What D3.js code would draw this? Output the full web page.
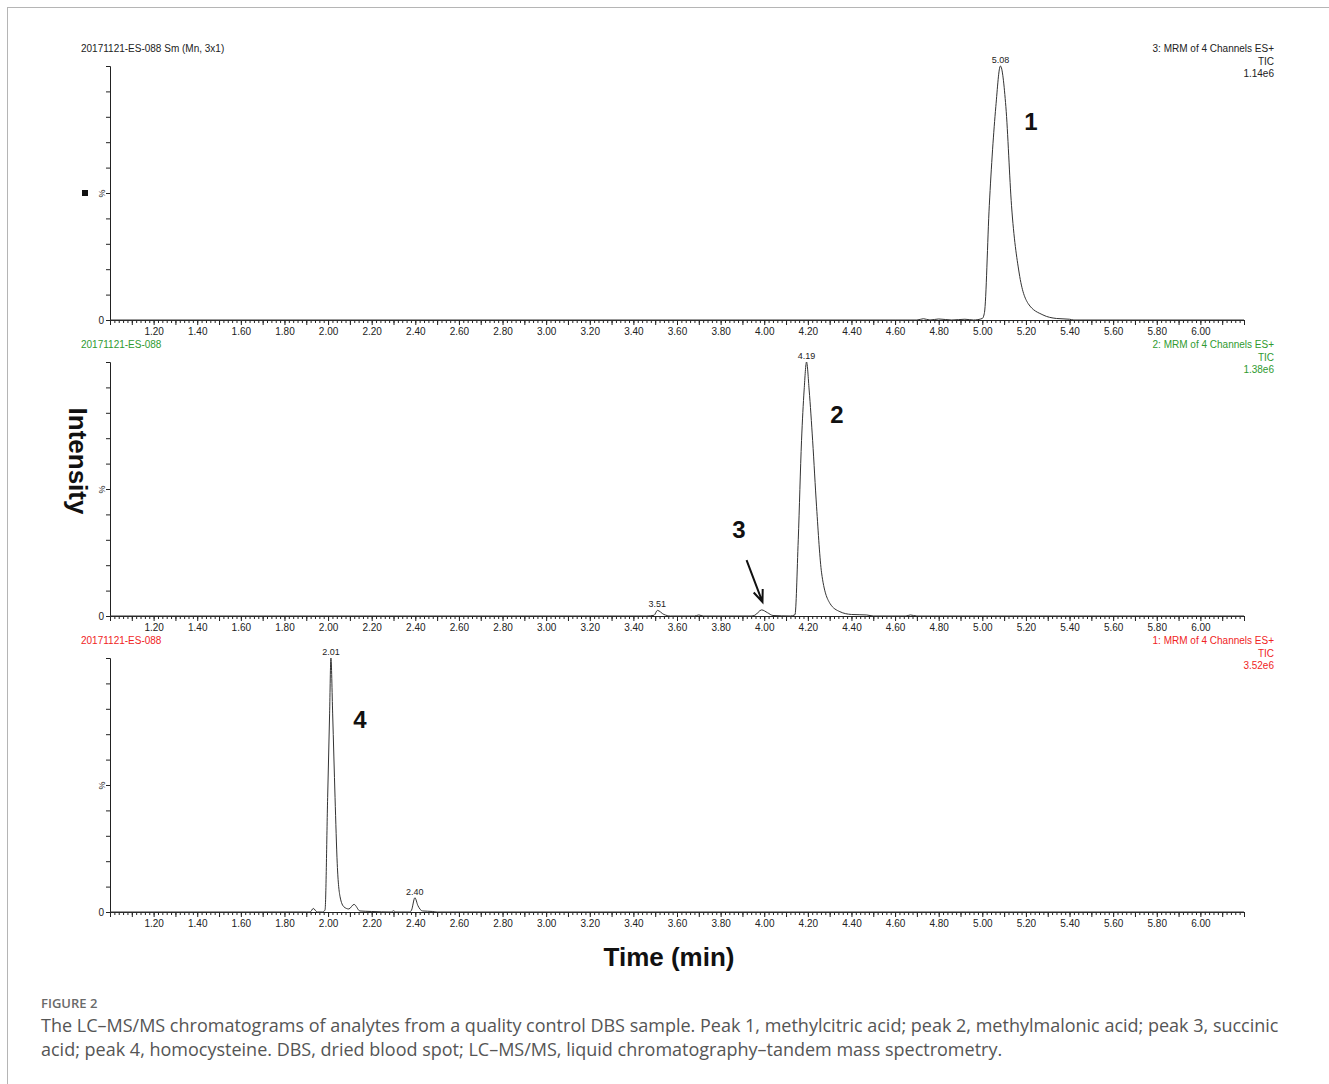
<!DOCTYPE html>
<html>
<head>
<meta charset="utf-8">
<script src="https://cdn.jsdelivr.net/npm/d3@7"></script>
<style>
  body { margin: 0; background: #fff; }
  svg text { font-family: "Liberation Sans", Arial, sans-serif; }
</style>
</head>
<body>
<div id="chart"></div>
<script>
// retention time axis (min)
const timeDomain = [1.0, 6.2];
const xTickLabels = ["1.20", "1.40", "1.60", "1.80", "2.00", "2.20", "2.40", "2.60", "2.80", "3.00",
  "3.20", "3.40", "3.60", "3.80", "4.00", "4.20", "4.40", "4.60", "4.80", "5.00",
  "5.20", "5.40", "5.60", "5.80", "6.00"];

// panel headers
const sampleNames = ["20171121-ES-088 Sm (Mn, 3x1)", "20171121-ES-088", "20171121-ES-088"];
const channelNames = ["3: MRM of 4 Channels ES+", "2: MRM of 4 Channels ES+", "1: MRM of 4 Channels ES+"];
const channelTypes = ["TIC", "TIC", "TIC"];
const channelMax = ["1.14e6", "1.38e6", "3.52e6"];
const channelColors = ["#222", "#2f9a2f", "#f02424"];

// traces, time (min) and relative intensity (%)
const ch3Time = [1.00, 4.60, 4.70, 4.73, 4.76, 4.80, 4.86, 4.92, 4.96, 5.000, 5.010, 5.032, 5.062, 5.083, 5.108, 5.134, 5.169, 5.210, 5.278, 5.340, 5.400, 5.420, 6.20];
const ch3Pct = [0, 0, 0, 0.5, 0, 0.4, 0, 0.3, 0, 0.6, 3, 45, 84, 100, 84, 45, 18.5, 6.5, 2, 0.6, 0.3, 0, 0];

const ch2Time = [1.00, 3.46, 3.495, 3.51, 3.54, 3.57, 3.68, 3.70, 3.72, 3.94, 3.957, 3.988, 4.015, 4.040, 4.120, 4.141, 4.156, 4.171, 4.183, 4.194, 4.206, 4.222, 4.240, 4.263, 4.301, 4.347, 4.400, 4.470, 4.500, 4.650, 4.670, 4.700, 6.20];
const ch2Pct = [0, 0, 0.3, 2.2, 0.6, 0, 0, 0.4, 0, 0, 0.3, 2.4, 1.3, 0.2, 0, 0.5, 30, 69, 89, 100, 89, 69, 43, 17, 5, 1.7, 0.6, 0.4, 0, 0, 0.4, 0, 0];

const ch1Time = [1.00, 1.900, 1.918, 1.932, 1.950, 1.975, 1.986, 1.998, 2.007, 2.013, 2.021, 2.032, 2.042, 2.055, 2.073, 2.095, 2.119, 2.146, 2.200, 2.290, 2.300, 2.310, 2.375, 2.383, 2.398, 2.412, 2.433, 2.480, 2.500, 6.20];
const ch1Pct = [0, 0, 0, 1.4, 0, 0, 0.8, 45, 78, 100, 78, 45, 19, 6, 2, 1.2, 3, 0.4, 0.2, 0, 0.5, 0, 0, 0.8, 5.6, 2.5, 0.4, 0.2, 0, 0];

// annotations: apex labels and peak numbers
const apexLabels = [
  [{ t: 5.083, v: 100, text: "5.08" }],
  [{ t: 4.194, v: 100, text: "4.19" }, { t: 3.51, v: 2.2, text: "3.51" }],
  [{ t: 2.013, v: 100, text: "2.01" }, { t: 2.398, v: 5.6, text: "2.40" }]
];
const peakNumbers = [
  [{ t: 5.223, v: 78, text: "1" }],
  [{ t: 4.333, v: 79.5, text: "2" }, { t: 3.884, v: 34, text: "3" }],
  [{ t: 2.146, v: 75.6, text: "4" }]
];
const arrowFrom = { t: 3.919, v: 22 };
const arrowTo = { t: 3.992, v: 5.5 };

const traces = [
  { time: ch3Time, pct: ch3Pct },
  { time: ch2Time, pct: ch2Pct },
  { time: ch1Time, pct: ch1Pct }
];

const W = 1329, H = 1084;
const left = 110, right = 1244;
const panelTops = [66, 362, 658];
const panelH = 254;

const svg = d3.select("#chart").append("svg")
  .attr("width", W)
  .attr("height", H);

// page frame
svg.append("rect")
  .attr("x", 7.5).attr("y", 7.5)
  .attr("width", W + 10).attr("height", H + 10)
  .attr("fill", "none")
  .attr("stroke", "#b5b5b5")
  .attr("stroke-width", 1);

const x = d3.scaleLinear().domain(timeDomain).range([left, right]);

const minorTicks = d3.range(50, 311).map(i => i / 50);
const majorTicks = d3.range(10, 63).map(i => i / 10);
const labelSet = new Set(xTickLabels);

traces.forEach((tr, i) => {
  const top = panelTops[i];
  const y = d3.scaleLinear().domain([0, 100]).range([top + panelH, top]);
  const g = svg.append("g");
  const col = channelColors[i];

  // headers
  g.append("text")
    .attr("x", 81).attr("y", top - 14)
    .attr("font-size", 10)
    .attr("fill", col)
    .text(sampleNames[i]);
  [channelNames[i], channelTypes[i], channelMax[i]].forEach((s, k) => {
    g.append("text")
      .attr("x", 1274).attr("y", top - 14 + k * 12.5)
      .attr("text-anchor", "end")
      .attr("font-size", 10)
      .attr("fill", col)
      .text(s);
  });

  // y axis
  const yAxis = d3.axisLeft(y)
    .tickValues(d3.range(0, 101, 10))
    .tickSize(4)
    .tickSizeOuter(4)
    .tickPadding(2)
    .tickFormat(d => d === 0 ? "0" : d === 50 ? "%" : "");
  const ya = g.append("g")
    .attr("transform", `translate(${left},0)`)
    .call(yAxis);
  ya.selectAll("path, line").attr("stroke", "#222");
  ya.selectAll("text")
    .attr("font-size", 10)
    .attr("fill", "#222")
    .attr("font-family", "Liberation Sans, Arial, sans-serif");
  ya.selectAll(".tick").filter(d => d === 50).select("text")
    .attr("font-size", 9)
    .attr("text-anchor", "middle")
    .attr("x", -8)
    .attr("dy", "0.32em")
    .attr("transform", `rotate(-90,-8,0)`);

  if (i === 0) {
    g.append("rect")
      .attr("x", left - 28).attr("y", y(50) - 3)
      .attr("width", 6).attr("height", 6)
      .attr("fill", "#111");
  }

  // x axis: minor and major ticks
  const xMinor = d3.axisBottom(x).tickValues(minorTicks).tickSize(3).tickSizeOuter(0).tickFormat("");
  const xm = g.append("g")
    .attr("transform", `translate(0,${top + panelH})`)
    .call(xMinor);
  xm.selectAll("path, line").attr("stroke", "#222");

  const xMajor = d3.axisBottom(x).tickValues(majorTicks).tickSize(5).tickSizeOuter(0).tickPadding(3)
    .tickFormat(d => {
      const s = d.toFixed(2);
      return labelSet.has(s) ? s : "";
    });
  const xj = g.append("g")
    .attr("transform", `translate(0,${top + panelH})`)
    .call(xMajor);
  xj.select(".domain").remove();
  xj.selectAll("line").attr("stroke", "#222");
  xj.selectAll("text")
    .attr("font-size", 10)
    .attr("fill", "#222")
    .attr("font-family", "Liberation Sans, Arial, sans-serif");

  // trace
  const pts = tr.time.map((t, k) => [t, tr.pct[k]]);
  g.append("path")
    .datum(pts)
    .attr("fill", "none")
    .attr("stroke", "#333")
    .attr("stroke-width", 1)
    .attr("d", d3.line()
      .x(d => x(d[0]))
      .y(d => y(d[1]))
      .curve(d3.curveMonotoneX));

  // apex labels
  apexLabels[i].forEach(a => {
    g.append("text")
      .attr("x", x(a.t)).attr("y", y(a.v) - 3)
      .attr("text-anchor", "middle")
      .attr("font-size", 9)
      .attr("fill", "#222")
      .text(a.text);
  });

  // peak numbers
  peakNumbers[i].forEach(p => {
    g.append("text")
      .attr("x", x(p.t)).attr("y", y(p.v))
      .attr("text-anchor", "middle")
      .attr("dominant-baseline", "central")
      .attr("font-size", 24)
      .attr("font-weight", "bold")
      .attr("fill", "#111")
      .text(p.text);
  });

  if (i === 1) {
    const x0 = x(arrowFrom.t), y0 = y(arrowFrom.v);
    const x1 = x(arrowTo.t), y1 = y(arrowTo.v);
    const ang = Math.atan2(y1 - y0, x1 - x0);
    const hl = 13, ha = 0.38;
    g.append("path")
      .attr("d", `M${x0},${y0}L${x1},${y1}` +
        `M${x1 - hl * Math.cos(ang - ha)},${y1 - hl * Math.sin(ang - ha)}L${x1},${y1}` +
        `L${x1 - hl * Math.cos(ang + ha)},${y1 - hl * Math.sin(ang + ha)}`)
      .attr("fill", "none")
      .attr("stroke", "#111")
      .attr("stroke-width", 2);
  }
});

// axis titles
svg.append("text")
  .attr("transform", `translate(69,461) rotate(90)`)
  .attr("text-anchor", "middle")
  .attr("font-size", 26)
  .attr("font-weight", "bold")
  .attr("fill", "#111")
  .text("Intensity");

svg.append("text")
  .attr("x", 669).attr("y", 966)
  .attr("text-anchor", "middle")
  .attr("font-size", 26)
  .attr("font-weight", "bold")
  .attr("fill", "#111")
  .text("Time (min)");

// caption
svg.append("text")
  .attr("x", 41).attr("y", 1008)
  .attr("font-size", 13)
  .attr("font-weight", 600)
  .attr("fill", "#6a6a6a")
  .style("font-family", "'Open Sans', sans-serif")
  .text("FIGURE 2");

const captionLines = [
  "The LC\u2013MS/MS chromatograms of analytes from a quality control DBS sample. Peak 1, methylcitric acid; peak 2, methylmalonic acid; peak 3, succinic",
  "acid; peak 4, homocysteine. DBS, dried blood spot; LC\u2013MS/MS, liquid chromatography\u2013tandem mass spectrometry."
];
captionLines.forEach((s, k) => {
  svg.append("text")
    .attr("x", 41).attr("y", 1032 + k * 24)
    .attr("font-size", 18)
    .attr("fill", "#555")
    .style("font-family", "'Open Sans', sans-serif")
    .text(s);
});
</script>
</body>
</html>
